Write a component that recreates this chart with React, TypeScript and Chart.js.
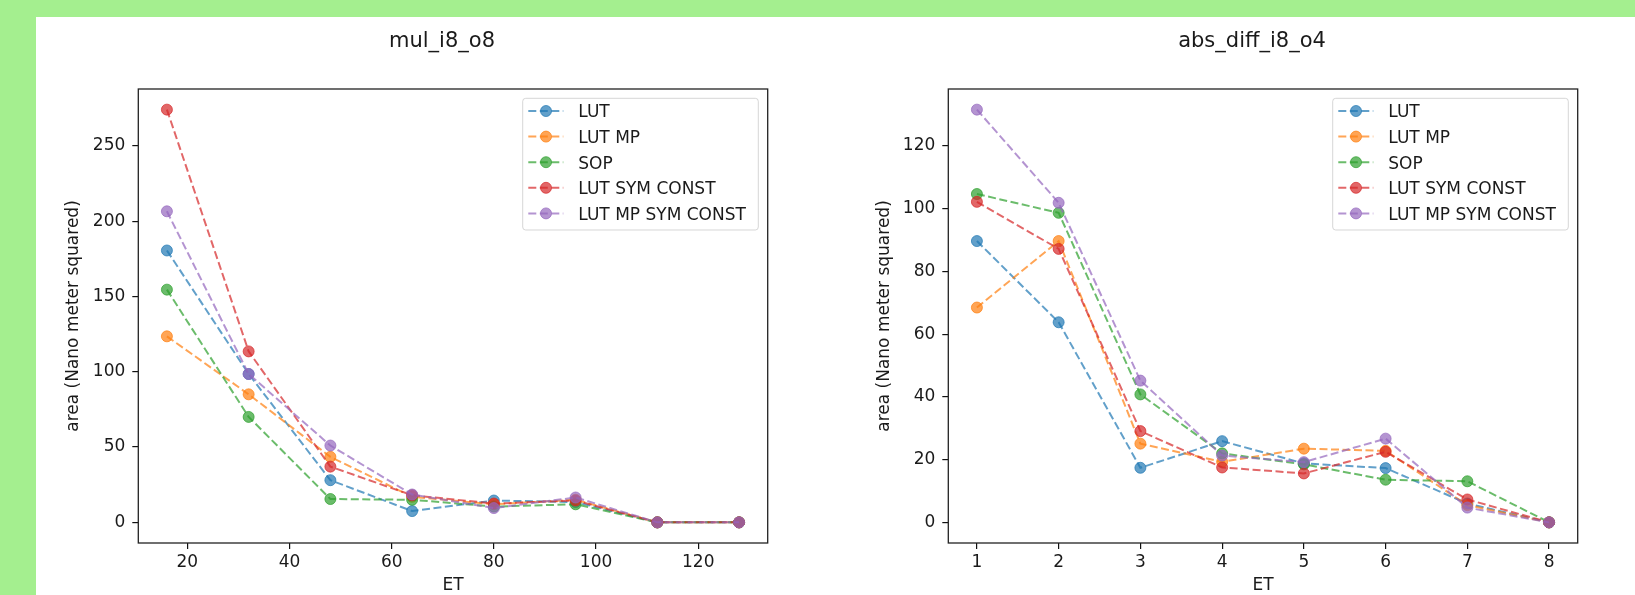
import React, { useEffect, useRef } from 'react';
import { Chart, registerables } from 'chart.js';

Chart.register(...registerables);
Chart.defaults.font.family = '"DejaVu Sans", sans-serif';

// ---------- data ----------
const seriesNames = ['LUT', 'LUT MP', 'SOP', 'LUT SYM CONST', 'LUT MP SYM CONST'];
const seriesRGB = ['31,119,180', '255,127,14', '44,160,44', '214,39,40', '148,103,189'];

// mul_i8_o8
const mulTitle = 'mul_i8_o8';
const mulET = [16, 32, 48, 64, 80, 96, 112, 128];
const mulLUT = [180.5, 98.5, 28, 7.5, 14.5, 13.5, 0, 0];
const mulLUTMP = [123.5, 85, 43.5, 17, 12, 15, 0, 0];
const mulSOP = [154.5, 70, 15.5, 15, 10.5, 12, 0, 0];
const mulLUTSym = [274, 113.5, 37, 18, 12.5, 14.5, 0, 0];
const mulLUTMPSym = [206.5, 98.5, 51, 18.5, 9.5, 16.5, 0, 0];
const mulXTicks = [20, 40, 60, 80, 100, 120];
const mulYTicks = [0, 50, 100, 150, 200, 250];
const mulXRange = [10.4, 133.6];
const mulYRange = [-13.7, 287.7];

// abs_diff_i8_o4
const absTitle = 'abs_diff_i8_o4';
const absET = [1, 2, 3, 4, 5, 6, 7, 8];
const absLUT = [89.7, 63.8, 17.4, 25.9, 18.8, 17.3, 6.0, 0];
const absLUTMP = [68.5, 89.7, 25.1, 19.3, 23.5, 22.8, 5.5, 0];
const absSOP = [104.7, 98.7, 40.8, 22.0, 18.5, 13.6, 13.1, 0];
const absLUTSym = [102.2, 87.2, 29.1, 17.5, 15.6, 22.5, 7.3, 0];
const absLUTMPSym = [131.6, 101.9, 45.2, 21.3, 19.2, 26.7, 4.7, 0];
const absXTicks = [1, 2, 3, 4, 5, 6, 7, 8];
const absYTicks = [0, 20, 40, 60, 80, 100, 120];
const absXRange = [0.65, 8.35];
const absYRange = [-6.58, 138.18];

const xLabel = 'ET';
const yLabel = 'area (Nano meter squared)';

// ---------- styling ----------
const TEXT = '#1a1a1a';
const DASH = [8, 3.5];
const LINE_W = 2;
const rgba = (c: string, a: number) => `rgba(${c},${a})`;

function decorPlugin(title: string) {
  return {
    id: 'mplDecor',
    afterDatasetsDraw(chart: any) {
      const { ctx, chartArea: a } = chart;
      ctx.save();
      ctx.strokeStyle = '#222';
      ctx.lineWidth = 1.3;
      ctx.setLineDash([]);
      ctx.strokeRect(a.left, a.top, a.right - a.left, a.bottom - a.top);
      ctx.restore();
    },
    afterDraw(chart: any) {
      const { ctx, chartArea: a } = chart;
      ctx.save();
      // title
      ctx.font = '21px "DejaVu Sans"';
      ctx.fillStyle = TEXT;
      ctx.textAlign = 'center';
      ctx.textBaseline = 'alphabetic';
      ctx.fillText(title, (a.left + a.right) / 2 - 11, 29.7);

      // legend
      const w = 235.6;
      const h = 131.7;
      const x0 = a.right - 9.4 - w;
      const y0 = a.top + 9.3;
      const r = 3;
      ctx.beginPath();
      ctx.moveTo(x0 + r, y0);
      ctx.lineTo(x0 + w - r, y0);
      ctx.arcTo(x0 + w, y0, x0 + w, y0 + r, r);
      ctx.lineTo(x0 + w, y0 + h - r);
      ctx.arcTo(x0 + w, y0 + h, x0 + w - r, y0 + h, r);
      ctx.lineTo(x0 + r, y0 + h);
      ctx.arcTo(x0, y0 + h, x0, y0 + h - r, r);
      ctx.lineTo(x0, y0 + r);
      ctx.arcTo(x0, y0, x0 + r, y0, r);
      ctx.closePath();
      ctx.fillStyle = 'rgba(255,255,255,0.8)';
      ctx.fill();
      ctx.strokeStyle = 'rgba(204,204,204,0.8)';
      ctx.lineWidth = 1;
      ctx.stroke();

      chart.data.datasets.forEach((ds: any, i: number) => {
        const cy = y0 + 12.7 + i * 25.6;
        const c = seriesRGB[i];
        ctx.setLineDash(DASH);
        ctx.strokeStyle = rgba(c, 0.7);
        ctx.lineWidth = LINE_W;
        ctx.beginPath();
        ctx.moveTo(x0 + 5.6, cy);
        ctx.lineTo(x0 + 40.6, cy);
        ctx.stroke();
        ctx.setLineDash([]);
        ctx.beginPath();
        ctx.arc(x0 + 23.3, cy, 5.5, 0, Math.PI * 2);
        ctx.fillStyle = rgba(c, 0.7);
        ctx.fill();
        ctx.lineWidth = 1;
        ctx.stroke();
        ctx.font = '17px "DejaVu Sans"';
        ctx.fillStyle = TEXT;
        ctx.textAlign = 'left';
        ctx.textBaseline = 'alphabetic';
        ctx.fillText(ds.label, x0 + 55.6, cy + 6.3);
      });
      ctx.restore();
    },
  };
}

type PanelProps = {
  title: string;
  et: number[];
  series: number[][];
  xRange: number[];
  yRange: number[];
  xTicks: number[];
  yTicks: number[];
  left: number;
  width: number;
  yAxisWidth: number;
  padRight: number;
  yTitlePad: number;
};

function Panel(p: PanelProps) {
  const ref = useRef<HTMLCanvasElement | null>(null);
  useEffect(() => {
    if (!ref.current) return;
    const n = p.series.length;
    const tickGrid = {
      display: true,
      drawOnChartArea: false,
      drawTicks: true,
      tickLength: 6,
      color: '#111',
      lineWidth: 1.2,
    };
    const chart = new Chart(ref.current, {
      type: 'line',
      data: {
        datasets: p.series.map((vals, i) => ({
          label: seriesNames[i],
          data: p.et.map((x, j) => ({ x, y: vals[j] })),
          borderColor: rgba(seriesRGB[i], 0.7),
          backgroundColor: rgba(seriesRGB[i], 0.7),
          pointBackgroundColor: rgba(seriesRGB[i], 0.7),
          pointBorderColor: rgba(seriesRGB[i], 0.7),
          borderWidth: LINE_W,
          borderDash: DASH,
          pointRadius: 5.5,
          pointBorderWidth: 1,
          pointHoverRadius: 5.5,
          tension: 0,
          fill: false,
          order: n - 1 - i,
        })),
      },
      options: {
        animation: false,
        responsive: false,
        events: [],
        layout: { padding: { left: 0, top: 72, right: p.padRight, bottom: 0 } },
        plugins: {
          legend: { display: false },
          tooltip: { enabled: false },
          title: { display: false },
        },
        scales: {
          x: {
            type: 'linear',
            min: p.xRange[0],
            max: p.xRange[1],
            bounds: 'data',
            afterBuildTicks: (s: any) => {
              s.ticks = p.xTicks.map((v) => ({ value: v }));
            },
            afterFit: (s: any) => {
              s.height = 52;
            },
            grid: tickGrid,
            border: { display: false },
            ticks: {
              font: { size: 17 },
              color: TEXT,
              padding: 3,
              maxRotation: 0,
              autoSkip: false,
            },
            title: {
              display: true,
              text: xLabel,
              color: TEXT,
              font: { size: 17, lineHeight: 1 },
              padding: { top: 0, bottom: 0.5 },
            },
          },
          y: {
            type: 'linear',
            min: p.yRange[0],
            max: p.yRange[1],
            bounds: 'data',
            afterBuildTicks: (s: any) => {
              s.ticks = p.yTicks.map((v) => ({ value: v }));
            },
            afterFit: (s: any) => {
              s.width = p.yAxisWidth;
            },
            grid: tickGrid,
            border: { display: false },
            ticks: {
              font: { size: 17 },
              color: TEXT,
              padding: 7,
              autoSkip: false,
            },
            title: {
              display: true,
              text: yLabel,
              color: TEXT,
              font: { size: 17, lineHeight: 1.2 },
              padding: { top: p.yTitlePad, bottom: 0 },
            },
          },
        },
      } as any,
      plugins: [decorPlugin(p.title)],
    });
    return () => chart.destroy();
  }, []);
  return (
    <canvas
      ref={ref}
      width={p.width}
      height={578}
      style={{ position: 'absolute', left: p.left, top: 17, width: p.width, height: 578 }}
    />
  );
}

export default function App() {
  return (
    <div
      style={{
        position: 'fixed',
        left: 0,
        top: 0,
        width: 1635,
        height: 595,
        background: '#a4ef8f',
        overflow: 'hidden',
      }}
    >
      <div
        style={{
          position: 'absolute',
          left: 36,
          top: 17,
          right: 0,
          bottom: 0,
          background: '#ffffff',
        }}
      />
      <Panel
        title={mulTitle}
        et={mulET}
        series={[mulLUT, mulLUTMP, mulSOP, mulLUTSym, mulLUTMPSym]}
        xRange={mulXRange}
        yRange={mulYRange}
        xTicks={mulXTicks}
        yTicks={mulYTicks}
        left={36}
        width={781}
        yAxisWidth={102.3}
        padRight={49.3}
        yTitlePad={27.5}
      />
      <Panel
        title={absTitle}
        et={absET}
        series={[absLUT, absLUTMP, absSOP, absLUTSym, absLUTMPSym]}
        xRange={absXRange}
        yRange={absYRange}
        xTicks={absXTicks}
        yTicks={absYTicks}
        left={817}
        width={818}
        yAxisWidth={131.3}
        padRight={57.3}
        yTitlePad={57}
      />
    </div>
  );
}
